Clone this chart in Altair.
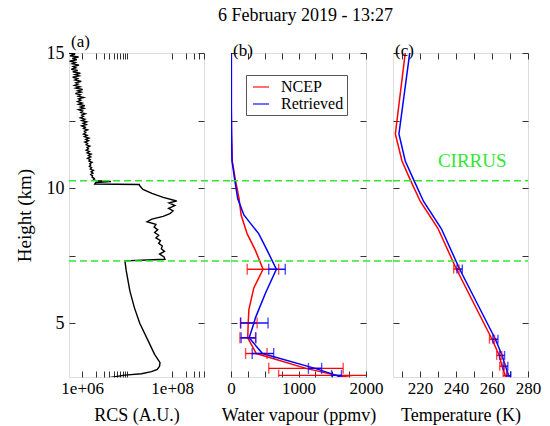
import altair as alt
import pandas as pd

FONT = "Liberation Serif"

# ---------------- data ----------------
main_title = "6 February 2019 - 13:27"
panel_labels = ["(a)", "(b)", "(c)"]
series_names = ["NCEP", "Retrieved"]
series_colors = ["#ff0000", "#0000ff"]

# Panel (a): lidar range-corrected signal (log10 of RCS) versus height (km)
rcs_height = [2.97, 3.07, 3.12, 3.20, 3.28, 3.40, 3.53, 3.84, 4.33, 4.99, 5.57, 6.19, 6.93, 7.30,
              7.36, 7.45, 7.55, 7.65, 7.75, 7.85, 7.95, 8.05, 8.15, 8.25, 8.35, 8.45, 8.55,
              8.65, 8.75, 8.85, 8.95, 9.05, 9.15, 9.25, 9.35, 9.45, 9.52, 9.65, 9.80, 9.95,
              10.08, 10.13, 10.15, 10.20, 10.24, 10.27, 10.30,
              10.35, 10.40, 10.45, 10.50, 10.55, 10.60, 10.65, 10.70, 10.75, 10.80, 10.85, 10.90,
              10.95, 11.00, 11.05, 11.10, 11.15, 11.20, 11.25, 11.30, 11.35, 11.40, 11.45, 11.50,
              11.55, 11.60, 11.65, 11.70, 11.75, 11.80, 11.85, 11.90, 11.95, 12.00, 12.05, 12.10,
              12.15, 12.20, 12.25, 12.30, 12.35, 12.40, 12.45, 12.50, 12.55, 12.60, 12.65, 12.70,
              12.75, 12.80, 12.85, 12.90, 12.95, 13.00, 13.05, 13.10, 13.15, 13.20, 13.25, 13.30,
              13.35, 13.40, 13.45, 13.50, 13.55, 13.60, 13.65, 13.70, 13.75, 13.80, 13.85, 13.90,
              13.95, 14.00, 14.05, 14.10, 14.15, 14.20, 14.25, 14.30, 14.35, 14.40, 14.45, 14.50,
              14.55, 14.60, 14.65, 14.70, 14.75, 14.80, 14.85, 14.90, 14.95, 15.00]
rcs_log10 = [6.58, 6.95, 7.32, 7.54, 7.67, 7.72, 7.73, 7.61, 7.47, 7.28, 7.16, 7.06, 6.98, 6.95,
             7.84, 7.82, 7.72, 7.83, 7.76, 7.78, 7.70, 7.74, 7.64, 7.70, 7.61, 7.68, 7.60,
             7.64, 7.44, 7.55, 7.80, 7.95, 8.02, 7.92, 8.06, 7.93, 8.10, 7.80, 7.55, 7.35,
             7.28, 7.27, 6.28, 6.30, 6.64, 6.32, 6.25,
             6.27, 6.22, 6.23, 6.19, 6.24, 6.20, 6.25, 6.18, 6.21, 6.16, 6.19, 6.17,
             6.22, 6.15, 6.18, 6.12, 6.19, 6.14, 6.20, 6.11, 6.16, 6.09, 6.14, 6.11,
             6.17, 6.09, 6.12, 6.06, 6.14, 6.08, 6.15, 6.05, 6.11, 6.03, 6.08, 6.05,
             6.12, 6.03, 6.07, 5.99, 6.09, 6.02, 6.10, 5.99, 6.06, 5.96, 6.03, 5.99,
             6.07, 5.97, 6.01, 5.92, 6.04, 5.96, 6.06, 5.92, 6.00, 5.90, 5.97, 5.92,
             6.03, 5.91, 5.96, 5.85, 5.98, 5.90, 6.01, 5.86, 5.95, 5.83, 5.91, 5.86,
             5.98, 5.84, 5.90, 5.79, 5.93, 5.84, 5.96, 5.79, 5.90, 5.76, 5.86, 5.80,
             5.93, 5.78, 5.85, 5.72, 5.88, 5.78, 5.92, 5.73, 5.84, 5.70]
rcs_ticks = [1e6, 2e6, 3e6, 4e6, 5e6, 6e6, 7e6, 8e6, 9e6, 1e7, 1e8, 2e8, 3e8, 4e8, 5e8]

# Panel (b): water vapour (ppmv)
wv_ncep_h = [15.0, 13.0, 12.0, 11.0, 10.3, 9.6, 9.0, 8.3, 7.7, 6.99, 6.3, 5.5, 5.0, 4.45, 3.87, 3.32, 3.06, 2.8]
wv_ncep = [5, 5, 8, 18, 65, 120, 150, 240, 360, 475, 338, 265, 255, 248, 375, 1110, 1560, 2300]
wv_ret_h = [15.0, 13.0, 12.0, 11.0, 10.3, 9.6, 9.0, 8.3, 7.7, 6.99, 6.1, 5.2, 5.0, 4.45, 3.87, 3.32, 3.06, 2.9]
wv_ret = [5, 5, 8, 15, 55, 100, 191, 412, 534, 672, 510, 363, 340, 269, 466, 1245, 1563, 1700]
wv_err_h = [6.99, 5.0, 4.45, 3.87, 3.32, 3.06]
wv_ncep_lo = [240, 142, 132, 216, 559, 706]
wv_ncep_hi = [706, 387, 363, 534, 1662, 2400]
wv_ret_lo = [559, 142, 150, 314, 1147, 1490]
wv_ret_hi = [804, 549, 368, 632, 1343, 1637]
wv_ticks = [0, 250, 500, 750, 1000, 1250, 1500, 1750, 2000]

# Panel (c): temperature (K)
t_h = [15.0, 12.0, 11.0, 10.3, 9.5, 8.5, 7.0, 4.4, 3.8, 3.4, 3.05, 2.9]
t_ncep = [211.8, 206.3, 210.0, 214.6, 220.2, 230.0, 240.2, 260.0, 264.0, 265.6, 267.4, 268.0]
t_ret = [214.3, 208.3, 211.8, 216.5, 222.0, 231.8, 242.0, 261.9, 265.6, 267.5, 269.3, 270.0]
t_err_h = [7.0, 4.4, 3.8, 3.4, 3.05]
t_ncep_lo = [238.7, 258.6, 262.6, 264.3, 266.2]
t_ncep_hi = [241.7, 261.4, 265.4, 266.9, 268.6]
t_ret_lo = [240.5, 260.5, 264.2, 266.2, 268.1]
t_ret_hi = [243.5, 263.3, 267.0, 268.8, 270.5]
t_ticks = [210, 220, 230, 240, 250, 260, 270, 280]

height_ticks = [5, 7.5, 10, 12.5, 15]
cirrus_heights = [7.3, 10.27]
cirrus_label = "CIRRUS"

# ---------------- layout / style ----------------
W, H = 135, 324
GAP = 27
GREEN = "#33e633"

AX = dict(domain=False, grid=False, tickColor="#333", tickWidth=1,
          tickSize={"expr": "-6"}, labelFont=FONT, labelFontSize=17,
          labelColor="black", labelPadding=9, labelFlush=False, labelOverlap=False,
          titleFont=FONT, titleFontSize=18, titleFontWeight="normal", titleColor="black")

y_scale = alt.Scale(domain=[3, 15], nice=False, zero=False)


def xenc(field, scale, values, orient="bottom", label_expr=None, title=None):
    kw = dict(AX)
    if orient == "bottom":
        kw.update(title=title, titlePadding=10)
        if label_expr:
            kw.update(labelExpr=label_expr)
    else:
        kw.update(labels=False, title=None, labelPadding=0)
    return alt.X(field, type="quantitative", scale=scale,
                 axis=alt.Axis(orient=orient, values=values, **kw))


def yenc(orient="left", labels=False):
    kw = dict(AX)
    if labels:
        kw.update(labelExpr="datum.value % 5 == 0 ? datum.label : ''", labelFontSize=18,
                  labelPadding=11, title="Height (km)", titleFontSize=19, titlePadding=12)
    else:
        kw.update(labels=False, title=None, labelPadding=0)
    return alt.Y("h", type="quantitative", scale=y_scale,
                 axis=alt.Axis(orient=orient, values=height_ticks, **kw))


cirrus_df = pd.DataFrame({"h": cirrus_heights})


def cirrus_rules(y, extend):
    return alt.Chart(cirrus_df).mark_rule(
        stroke=GREEN, color=GREEN, strokeDash=[7, 4], strokeWidth=1.5, opacity=1, clip=False
    ).encode(x=alt.value(0), x2=alt.value(W + extend), y=y)


def panel_title(t):
    return alt.TitleParams(t, anchor="start", frame="group", font=FONT, fontSize=17,
                           fontWeight="normal", color="black", offset=-7, dx=2)


# ---------------- panel (a) ----------------
rcs_df = pd.DataFrame({"h": rcs_height, "rcs": [10 ** v for v in rcs_log10],
                       "idx": list(range(len(rcs_height)))})
rcs_scale = alt.Scale(type="log", domain=[5.1e5, 5.1e8], nice=False)
rcs_expr = "datum.value == 1000000 ? '1e+06' : datum.value == 100000000 ? '1e+08' : ''"

ya = yenc("left", labels=True)
xa = xenc("rcs", rcs_scale, rcs_ticks, "bottom", rcs_expr, "RCS (A.U.)")
a_line = alt.Chart(rcs_df).mark_line(color="black", strokeWidth=1.4, clip=True).encode(
    x=xa, y=ya, order="idx")
a_inner = alt.layer(a_line, cirrus_rules(ya, GAP))
a_mirror = alt.Chart(rcs_df).mark_point(opacity=0, clip=True).encode(
    x=xenc("rcs", rcs_scale, rcs_ticks, "top"), y=yenc("right"))
panel_a = alt.layer(a_inner, a_mirror).resolve_axis(x="independent", y="independent").properties(
    width=W, height=H, title=panel_title(panel_labels[0]))

# ---------------- panel (b) ----------------
wv_df = pd.concat([
    pd.DataFrame({"h": wv_ncep_h, "v": wv_ncep, "s": series_names[0], "idx": range(len(wv_ncep))}),
    pd.DataFrame({"h": wv_ret_h, "v": wv_ret, "s": series_names[1], "idx": range(len(wv_ret))}),
])
wv_err = pd.concat([
    pd.DataFrame({"h": wv_err_h, "lo": wv_ncep_lo, "hi": wv_ncep_hi, "s": series_names[0]}),
    pd.DataFrame({"h": wv_err_h, "lo": wv_ret_lo, "hi": wv_ret_hi, "s": series_names[1]}),
])
wv_scale = alt.Scale(domain=[0, 2000], nice=False)
wv_expr = "datum.value % 1000 == 0 ? format(datum.value, 'd') : ''"
color_b = alt.Color("s:N", scale=alt.Scale(domain=series_names, range=series_colors),
                    legend=alt.Legend(title=None, orient="none", legendX=15, legendY=22,
                                      symbolType="stroke", symbolSize=256, symbolStrokeWidth=1.6,
                                      labelFont=FONT, labelFontSize=16, labelColor="black",
                                      labelOffset=11, strokeColor="#555", fillColor="white",
                                      padding=3, rowPadding=0, symbolOffset=3))
yb = yenc("left")
xb = xenc("v", wv_scale, wv_ticks, "bottom", wv_expr, "Water vapour (ppmv)")
xb_lo = xenc("lo", wv_scale, wv_ticks, "bottom", wv_expr, "Water vapour (ppmv)")
b_line = alt.Chart(wv_df).mark_line(strokeWidth=1.5, clip=True).encode(
    x=xb, y=yb, color=color_b, order="idx")
b_bar = alt.Chart(wv_err).mark_rule(strokeWidth=1.4, clip=True).encode(
    x=xb_lo, x2="hi", y=yb, color=color_b)
b_cap = alt.Chart(wv_err).transform_fold(["lo", "hi"], as_=["k", "v"]).mark_tick(
    orient="vertical", size=11, thickness=1.4, clip=True).encode(
    x=xb, y=yb, color=color_b)
b_inner = alt.layer(b_line, b_bar, b_cap, cirrus_rules(yb, GAP))
b_mirror = alt.Chart(wv_df).mark_point(opacity=0, clip=True).encode(
    x=xenc("v", wv_scale, wv_ticks, "top"), y=yenc("right"))
panel_b = alt.layer(b_inner, b_mirror).resolve_axis(x="independent", y="independent").properties(
    width=W, height=H, title=panel_title(panel_labels[1]))

# ---------------- panel (c) ----------------
t_df = pd.concat([
    pd.DataFrame({"h": t_h, "v": t_ncep, "s": series_names[0], "idx": range(len(t_h))}),
    pd.DataFrame({"h": t_h, "v": t_ret, "s": series_names[1], "idx": range(len(t_h))}),
])
t_err = pd.concat([
    pd.DataFrame({"h": t_err_h, "lo": t_ncep_lo, "hi": t_ncep_hi, "s": series_names[0]}),
    pd.DataFrame({"h": t_err_h, "lo": t_ret_lo, "hi": t_ret_hi, "s": series_names[1]}),
])
t_scale = alt.Scale(domain=[205, 280], nice=False, zero=False)
t_expr = "datum.value % 20 == 0 ? format(datum.value, 'd') : ''"
color_c = alt.Color("s:N", scale=alt.Scale(domain=series_names, range=series_colors), legend=None)
yc = yenc("left")
xc = xenc("v", t_scale, t_ticks, "bottom", t_expr, "Temperature (K)")
xc_lo = xenc("lo", t_scale, t_ticks, "bottom", t_expr, "Temperature (K)")
c_line = alt.Chart(t_df).mark_line(strokeWidth=1.5, clip=True).encode(
    x=xc, y=yc, color=color_c, order="idx")
c_bar = alt.Chart(t_err).mark_rule(strokeWidth=1.4, clip=True).encode(
    x=xc_lo, x2="hi", y=yc, color=color_c)
c_cap = alt.Chart(t_err).transform_fold(["lo", "hi"], as_=["k", "v"]).mark_tick(
    orient="vertical", size=9, thickness=1.4, clip=True).encode(
    x=xc, y=yc, color=color_c)
c_text = alt.Chart(pd.DataFrame({"v": [249.0], "h": [11.0], "t": [cirrus_label]})).mark_text(
    font=FONT, fontSize=19, color=GREEN, align="center", baseline="middle").encode(
    x=xc, y=yc, text="t:N")
c_inner = alt.layer(c_line, c_bar, c_cap, c_text, cirrus_rules(yc, 0))
c_mirror = alt.Chart(t_df).mark_point(opacity=0, clip=True).encode(
    x=xenc("v", t_scale, t_ticks, "top"), y=yenc("right"))
panel_c = alt.layer(c_inner, c_mirror).resolve_axis(x="independent", y="independent").properties(
    width=W, height=H, title=panel_title(panel_labels[2]))

chart = alt.hconcat(panel_a, panel_b, panel_c, spacing=GAP, bounds="flush").resolve_scale(
    color="independent").resolve_legend(color="independent").properties(
    title=alt.TitleParams(main_title, font=FONT, fontSize=18, fontWeight="normal",
                          color="black", anchor="start", frame="group", offset=8, dx=149),
    padding={"left": 14, "top": 6, "right": 5, "bottom": 2},
    background="white",
).configure_view(stroke="#555", strokeWidth=1.3).configure_axis(
    labelFont=FONT, titleFont=FONT).configure(font=FONT)

chart.save("out.html", embed_options={"renderer": "svg", "actions": False})
